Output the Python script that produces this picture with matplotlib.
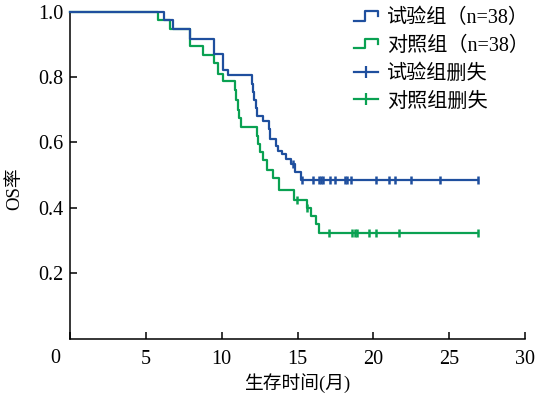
import numpy as np
import matplotlib
matplotlib.use("Agg")
import matplotlib.pyplot as plt
from matplotlib.lines import Line2D
from matplotlib.legend_handler import HandlerBase

plt.rcParams['font.family'] = ['Liberation Serif', 'Noto Sans CJK SC']

# ---- data ----
blue_t = [0, 6.2, 6.8, 7.9, 9.5, 10.1, 10.4, 12.0, 12.05, 12.15, 12.25, 12.35, 12.75,
          13.1, 13.2, 13.55, 13.7, 14.0, 14.25, 14.6, 14.85, 15.2, 26.9]
blue_s = [1.0, 0.974, 0.947, 0.917, 0.870, 0.822, 0.805, 0.78, 0.755, 0.73, 0.705, 0.68, 0.665,
          0.64, 0.61, 0.59, 0.575, 0.565, 0.55, 0.535, 0.51, 0.485, 0.485]
green_t = [0, 5.8, 6.6, 7.9, 8.8, 9.5, 9.75, 10.1, 10.85, 10.95, 11.05, 11.15, 11.3,
           12.3, 12.4, 12.5, 12.7, 13.0, 13.4, 13.75, 14.8, 15.6, 15.9, 16.2, 16.4, 26.9]
green_s = [1.0, 0.974, 0.947, 0.895, 0.868, 0.842, 0.808, 0.787, 0.76, 0.73, 0.70, 0.675, 0.648,
           0.62, 0.595, 0.57, 0.546, 0.516, 0.49, 0.455, 0.424, 0.40, 0.375, 0.35, 0.322, 0.322]
blue_cens = [14.7, 15.3, 16.05, 16.4, 16.55, 16.7, 17.15, 17.5, 18.1, 18.25, 18.5,
             20.2, 21.0, 21.4, 22.5, 24.4, 26.9]
green_cens = [14.95, 15.65, 17.05, 18.6, 18.8, 18.9, 19.7, 20.2, 21.7, 26.9]

labels = ['试验组（n=38）', '对照组（n=38）', '试验组删失', '对照组删失']
x_ticks = [0, 5, 10, 15, 20, 25, 30]
y_ticks = [0.2, 0.4, 0.6, 0.8, 1.0]

BLUE = '#1f4f9e'
GREEN = '#0aa152'


def step_value(t, s, x):
    idx = np.searchsorted(np.asarray(t), x, side='right') - 1
    return np.asarray(s)[idx]


fig = plt.figure(figsize=(5.47, 3.95), dpi=100)
ax = fig.add_axes([70 / 547, 1 - 338.6 / 395, 455 / 547, 326.9 / 395])

ax.step(blue_t, blue_s, where='post', color=BLUE, lw=1.6, clip_on=False, zorder=3)
ax.step(green_t, green_s, where='post', color=GREEN, lw=1.6, clip_on=False, zorder=2)
ax.plot(blue_cens, step_value(blue_t, blue_s, blue_cens), ls='none', marker='|',
        ms=6, mew=1.8, color=BLUE, clip_on=False, zorder=4)
ax.plot(green_cens, step_value(green_t, green_s, green_cens), ls='none', marker='|',
        ms=6, mew=1.8, color=GREEN, clip_on=False, zorder=4)

ax.set_xlim(0, 30)
ax.set_ylim(0, 1.0)
ax.set_xticks(x_ticks)
ax.set_xticklabels([''] + [str(v) for v in x_ticks[1:]])
ax.set_yticks(y_ticks)
ax.set_yticklabels([f'{v:.1f}' for v in y_ticks])
ax.tick_params(direction='in', length=5, width=1.1, labelsize=14.5)
ax.tick_params(axis='x', pad=8)
ax.tick_params(axis='y', pad=5)
for sp in ['top', 'right']:
    ax.spines[sp].set_visible(False)
for sp in ['left', 'bottom']:
    ax.spines[sp].set_linewidth(1.1)

ax.text(-15 / 455, -10.5 / 326.9, '0', transform=ax.transAxes, ha='center', va='top', fontsize=14.5)

ax.set_xlabel('生存时间(月)', fontsize=13.5, labelpad=3)
ax.set_ylabel('OS率', fontsize=13.5)
ax.yaxis.set_label_coords(-0.103, 0.46)


class StepHandler(HandlerBase):
    def create_artists(self, legend, orig_handle, xdescent, ydescent, width, height, fontsize, trans):
        x0 = -xdescent
        y0 = -ydescent
        xs = [x0, x0 + 0.45 * width, x0 + 0.45 * width, x0 + width, x0 + width]
        ys = [y0 + 0.2 * height, y0 + 0.2 * height, y0 + 0.85 * height, y0 + 0.85 * height, y0 + 0.5 * height]
        ln = Line2D(xs, ys, color=orig_handle.get_color(), lw=1.6, transform=trans)
        return [ln]


h1 = Line2D([], [], color=BLUE)
h2 = Line2D([], [], color=GREEN)
h3 = Line2D([], [], color=BLUE, lw=1.6, marker='|', ms=8, mew=1.6)
h4 = Line2D([], [], color=GREEN, lw=1.6, marker='|', ms=8, mew=1.6)

fig.legend([h1, h2, h3, h4], labels, loc='upper left', bbox_to_anchor=(354 / 547, 1 - 9 / 395),
           frameon=False, handlelength=1.2, handletextpad=0.45, labelspacing=0.42,
           borderpad=0, borderaxespad=0, fontsize=14.5,
           handler_map={h1: StepHandler(), h2: StepHandler()})

fig.savefig('out.png', dpi=100)
